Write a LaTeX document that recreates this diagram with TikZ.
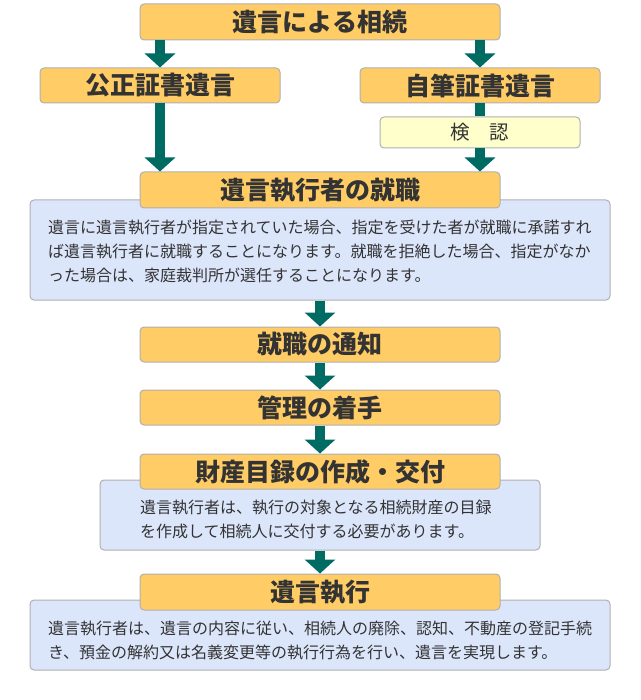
\documentclass[tikz,border=0pt]{standalone}
\usepackage{fontspec}
\setmainfont{Noto Sans CJK JP}
\usetikzlibrary{arrows.meta}
\definecolor{orangefill}{HTML}{FFCC66}
\definecolor{bluefill}{HTML}{DCE6FB}
\definecolor{yellowfill}{HTML}{FFFFCC}
\definecolor{edgegray}{HTML}{B0B0B0}
\definecolor{arrowteal}{HTML}{006B63}
\definecolor{textgray}{HTML}{333333}
\tikzset{
  hd/.style={draw=edgegray, line width=1pt, fill=orangefill, rounded corners=4pt,
    minimum width=360pt, minimum height=36pt, inner sep=0pt, text=textgray,
    font=\bfseries\fontsize{25}{25}\selectfont},
  bodybox/.style={draw=edgegray, line width=1pt, fill=bluefill, rounded corners=4pt, inner sep=0pt},
  bodytext/.style={anchor=west, align=left, inner sep=0pt, text=textgray,
    font=\fontsize{16}{24}\selectfont},
  kenbox/.style={draw=edgegray, line width=1pt, fill=yellowfill, rounded corners=4pt,
    minimum width=200pt, minimum height=31pt, inner sep=0pt, text=textgray,
    font=\fontsize{19.5}{19.5}\selectfont},
  arr/.style={draw=arrowteal, line width=10pt, -{Triangle[width=30pt,length=14pt]}},
  shaft/.style={draw=arrowteal, line width=10pt}
}
\begin{document}
\begin{tikzpicture}[x=1pt,y=-1pt]
\useasboundingbox (0,0) rectangle (640,700);
% blue body boxes first
\node[bodybox, minimum width=580pt, minimum height=100pt] (b1) at (320,250) {};
\node[bodybox, minimum width=440pt, minimum height=70pt] (b2) at (320,515) {};
\node[bodybox, minimum width=580pt, minimum height=70pt] (b3) at (320,635) {};
% heading boxes
\node[hd] (top) at (320,22) {遺言による相続};
\node[hd, minimum width=240pt, minimum height=35pt] (kosei) at (160,85.5) {公正証書遺言};
\node[hd, minimum width=240pt, minimum height=35pt] (jihitsu) at (480,85.5) {自筆証書遺言};
\node[kenbox] (kenin) at (480,132.5) {検　認};
\node[hd] (shu) at (320,190) {遺言執行者の就職};
\node[hd, minimum height=35pt] (tsuchi) at (320,344.5) {就職の通知};
\node[hd, minimum height=35pt] (kanri) at (320,407.5) {管理の着手};
\node[hd, minimum height=35pt] (zaisan) at (320,471.5) {財産目録の作成・交付};
\node[hd] (shikko) at (320,592) {遺言執行};
% body texts
\node[bodytext] (t1) at (48,251) {遺言に遺言執行者が指定されていた場合、指定を受けた者が就職に承諾すれ\\ば遺言執行者に就職することになります。就職を拒絶した場合、指定がなか\\った場合は、家庭裁判所が選任することになります。};
\node[bodytext] (t2) at (140,519) {遺言執行者は、執行の対象となる相続財産の目録\\を作成して相続人に交付する必要があります。};
\node[bodytext] (t3) at (48,641) {遺言執行者は、遺言の内容に従い、相続人の廃除、認知、不動産の登記手続\\き、預金の解約又は名義変更等の執行行為を行い、遺言を実現します。};
% arrows
\draw[arr] (top.south -| kosei.north) -- (kosei.north);
\draw[arr] (top.south -| jihitsu.north) -- (jihitsu.north);
\draw[arr] (kosei.south) -- (kosei.south |- shu.north);
\draw[shaft] (jihitsu.south) -- (kenin.north);
\draw[arr] (kenin.south) -- (kenin.south |- shu.north);
\draw[arr] (b1.south) -- (tsuchi.north);
\draw[arr] (tsuchi.south) -- (kanri.north);
\draw[arr] (kanri.south) -- (zaisan.north);
\draw[arr] (b2.south) -- (shikko.north);
\end{tikzpicture}
\end{document}
